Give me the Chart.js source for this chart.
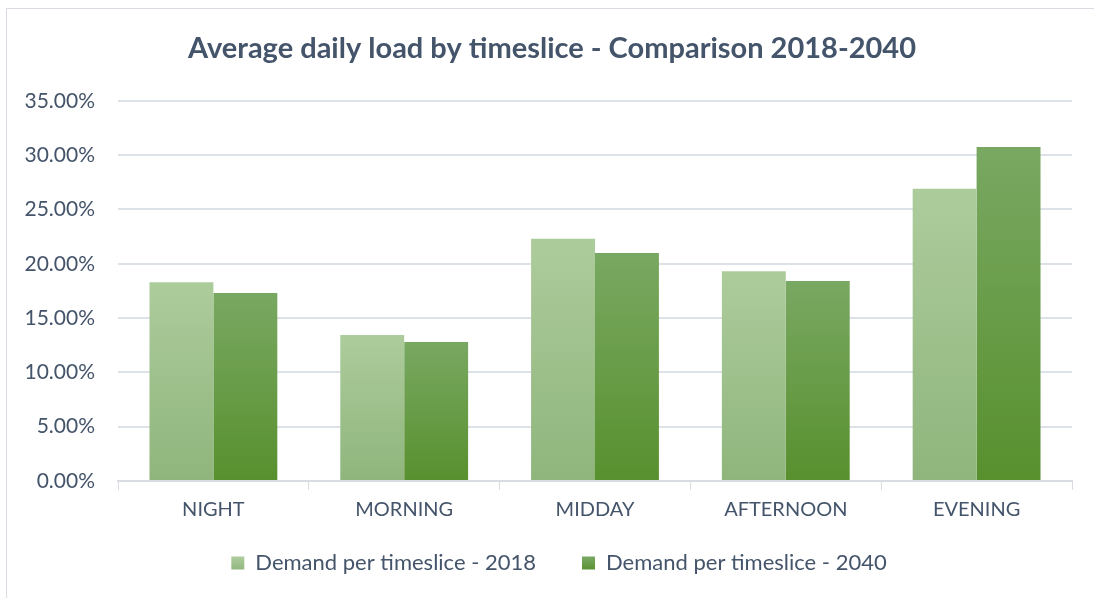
<!DOCTYPE html>
<html>
<head>
<meta charset="utf-8">
<script src="https://cdn.jsdelivr.net/npm/chart.js@4/dist/chart.umd.min.js"></script>
<style>
  body { margin: 0; background: #fff; }
  .frame { position: absolute; left: 6px; top: 8px; width: 1100px; height: 600px; border: 1px solid #d9dde3; }
  .wrap { position: absolute; left: 0; top: 0; width: 1094px; height: 598px; }
</style>
</head>
<body>
<div class="frame"></div>
<div class="wrap"><canvas id="myChart" width="1094" height="598"></canvas></div>
<script>
var categories = ["NIGHT", "MORNING", "MIDDAY", "AFTERNOON", "EVENING"];
var demand2018 = [18.3, 13.45, 22.3, 19.3, 26.9];
var demand2040 = [17.3, 12.8, 21.0, 18.4, 30.75];
var seriesNames = ["Demand per timeslice - 2018", "Demand per timeslice - 2040"];
var yTicks = [0, 5, 10, 15, 20, 25, 30, 35];

var textColor = "#44546a";
var fontName = "Lato";

// top/bottom colours of each bar's gradient
var gradColors = [
  ["#adcc9c", "#8fb57c"],
  ["#79a862", "#58902e"],
];

function barGradient(ctx, idx) {
  const chart = ctx.chart;
  const area = chart.chartArea;
  if (!area || ctx.type !== "data") return gradColors[idx][0];
  const yScale = chart.scales.y;
  const top = yScale.getPixelForValue(ctx.parsed.y);
  const g = chart.ctx.createLinearGradient(0, top, 0, area.bottom);
  g.addColorStop(0, gradColors[idx][0]);
  g.addColorStop(1, gradColors[idx][1]);
  return g;
}

// axes were squeezed with afterFit; widen their boxes again so labels aren't clipped
const unclipLabels = {
  id: "unclipLabels",
  afterLayout(chart) {
    chart.scales.x.bottom += 40;
    chart.scales.y.left -= 30;
    chart.legend.left += 7;
    chart.legend.right += 7;
  },
};

new Chart("myChart", {
  type: "bar",
  data: {
    labels: categories,
    datasets: [
      {
        label: seriesNames[0],
        data: demand2018,
        backgroundColor: (ctx) => barGradient(ctx, 0),
        barPercentage: 1,
        categoryPercentage: 0.67,
      },
      {
        label: seriesNames[1],
        data: demand2040,
        backgroundColor: (ctx) => barGradient(ctx, 1),
        barPercentage: 1,
        categoryPercentage: 0.67,
      },
    ],
  },
  plugins: [unclipLabels],
  options: {
    responsive: false,
    animation: false,
    layout: { padding: { left: 32, right: 22, top: 24, bottom: 14 } },
    plugins: {
      title: {
        display: true,
        text: "Average daily load by timeslice - Comparison 2018-2040",
        color: textColor,
        font: { family: fontName, size: 29, weight: "bold" },
        padding: { top: 7, bottom: 35 },
      },
      legend: {
        position: "bottom",
        labels: {
          color: textColor,
          font: { family: fontName, size: 22 },
          boxWidth: 13,
          boxHeight: 13,
          padding: 46,
          generateLabels: (chart) => {
            return chart.data.datasets.map((ds, i) => {
              const g = chart.ctx.createLinearGradient(0, 557, 0, 571);
              g.addColorStop(0, gradColors[i][0]);
              g.addColorStop(1, gradColors[i][1]);
              return {
                text: ds.label,
                fillStyle: g,
                strokeStyle: gradColors[i][1],
                lineWidth: 0,
                datasetIndex: i,
                fontColor: textColor,
              };
            });
          },
        },
      },
      tooltip: { enabled: false },
    },
    scales: {
      x: {
        afterFit: (axis) => {
          axis.height = 25;
        },
        grid: {
          display: true,
          drawOnChartArea: false,
          drawTicks: true,
          tickLength: 9,
          color: "#d9dde3",
          offset: true,
        },
        border: { display: true, color: "#d9dde3", width: 2 },
        ticks: {
          color: textColor,
          font: { family: fontName, size: 20 },
          padding: 8,
        },
      },
      y: {
        min: 0,
        max: 35,
        afterBuildTicks: (axis) => {
          axis.ticks = yTicks.map((v) => ({ value: v }));
        },
        afterFit: (axis) => {
          axis.width = 86;
        },
        grid: { color: "#dde2e8", lineWidth: 2, drawTicks: false },
        border: { display: false },
        ticks: {
          color: textColor,
          font: { family: fontName, size: 21 },
          padding: 23,
          callback: (v) => v.toFixed(2) + "%",
        },
      },
    },
  },
});
</script>
</body>
</html>
